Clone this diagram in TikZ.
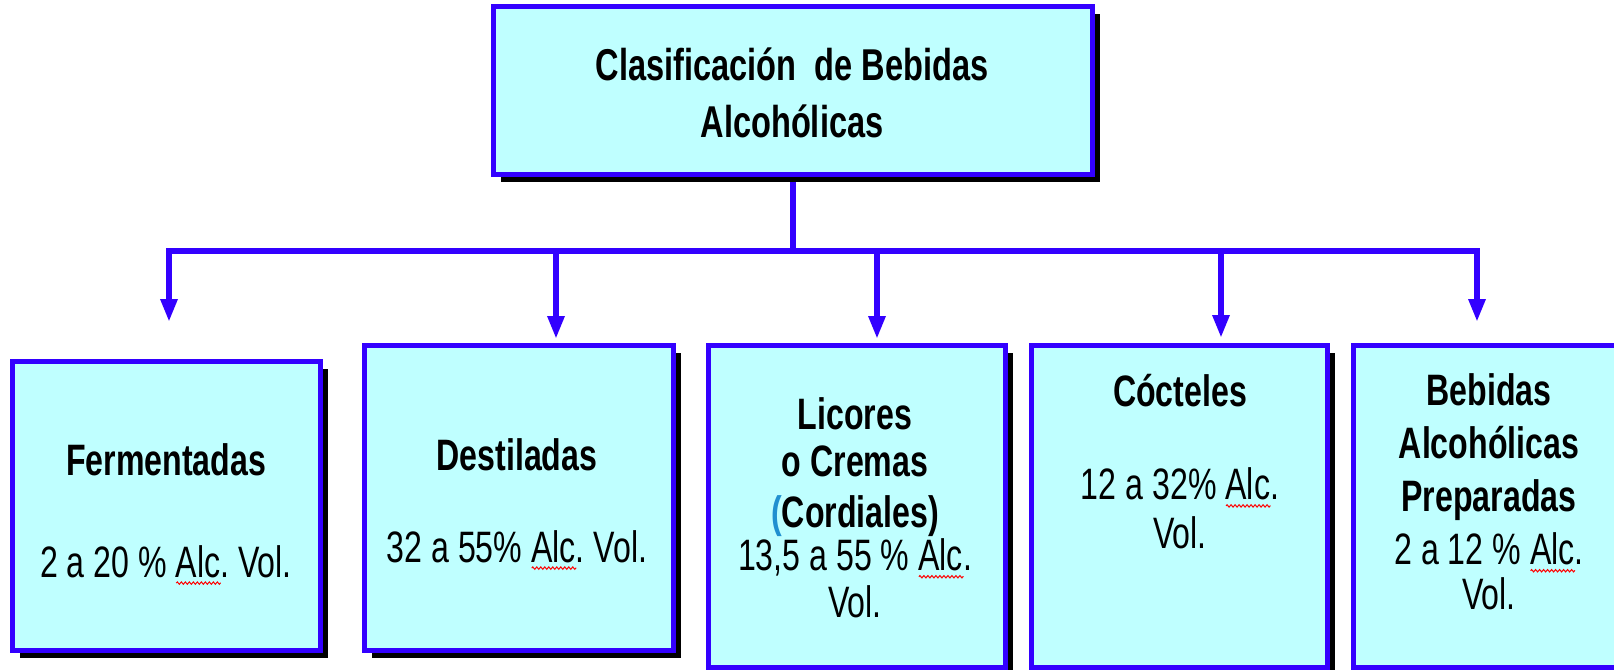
\documentclass[tikz,border=0pt]{standalone}
\usepackage{fontspec}
\setmainfont{Liberation Sans}[FakeStretch=0.73]
\usetikzlibrary{arrows.meta,shadows,backgrounds,decorations.pathmorphing}

\definecolor{borde}{HTML}{3300FF}
\definecolor{relleno}{HTML}{BFFFFF}
\definecolor{marca}{HTML}{2090D0}
% spell-check wave under a word
\newcommand{\sq}[1]{\setbox0\hbox{#1}\rlap{\tikz[baseline=0pt]\draw[red, line width=0.5pt, decorate,
  decoration={zigzag, segment length=2pt, amplitude=0.6pt}] (0pt,-3pt) -- (\wd0,-3pt);}\box0}

\begin{document}
\frenchspacing
\begin{tikzpicture}[x=0.5pt, y=-0.5pt, line join=miter, font=\fontsize{22}{25}\selectfont,
  caja/.style={draw=borde, fill=relleno, line width=2.5pt,
    general shadow={fill=black, shadow xshift=3.75pt, shadow yshift=-3.75pt}},
  conn/.style={draw=borde, line width=3pt},
  >={Triangle[length=11.5pt,width=8pt]}]
\path[use as bounding box] (0,0) rectangle (1614,670);
\clip (0,0) rectangle (1614,670);

\node[caja, minimum width=299.5pt, minimum height=84pt] (top) at (793,90.5) {};
\node[caja, minimum width=154pt, minimum height=144.5pt] (b1) at (166.5,506) {};
\node[caja, minimum width=154.5pt, minimum height=152.5pt] (b2) at (519,498) {};
\node[caja, minimum width=148.5pt, minimum height=161pt] (b3) at (857,506.5) {};
\node[caja, minimum width=148pt, minimum height=161pt] (b4) at (1179.5,506.5) {};
\node[caja, minimum width=152pt, minimum height=161pt] (b5) at (1505.5,506.5) {};

\node[align=center, font=\fontsize{22.3}{28.5}\selectfont\bfseries] (ttop) at (792,93)
  {Clasificación\ \ de Bebidas\\ Alcohólicas};
\node[align=center] (t1) at (166,514) {{\bfseries Fermentadas}\\[26pt] 2 a 20 \% \sq{Alc}. Vol.};
\node[align=center] (t2) at (517,504) {{\bfseries Destiladas}\\[21pt] 32 a 55\% \sq{Alc}. Vol.};
\node[align=center, font=\fontsize{22}{23.5}\selectfont] (t3) at (855,508)
  {{\bfseries Licores}\\ {\bfseries o Cremas}\\[2pt] {\bfseries{\color{marca}(}Cordiales)}\\[-2pt]
   13,5 a 55 \% \sq{Alc}.\\ Vol.};
\node[align=center, font=\fontsize{22}{24.5}\selectfont] (t4) at (1180,462)
  {{\bfseries Cócteles}\\[22pt] 12 a 32\% \sq{Alc}.\\ Vol.};
\node[align=center, font=\fontsize{22}{26.5}\selectfont] (t5) at (1489,492)
  {{\bfseries Bebidas}\\ {\bfseries Alcohólicas}\\ {\bfseries Preparadas}\\ 2 a 12 \% \sq{Alc}.\\[-4pt] Vol.};

\coordinate (hub) at (793,251);
\coordinate (e1) at (169,322);
\coordinate (e2) at (556,339);
\coordinate (e3) at (877,339);
\coordinate (e4) at (1221,338);
\coordinate (e5) at (1477,322);

\begin{scope}[on background layer]
\draw[conn] (top.south) -- (hub);
\foreach \to in {e1,e2,e3,e4,e5}
\draw[conn,->]
(hub) -| (\to)
;
\end{scope}
\end{tikzpicture}
\end{document}
